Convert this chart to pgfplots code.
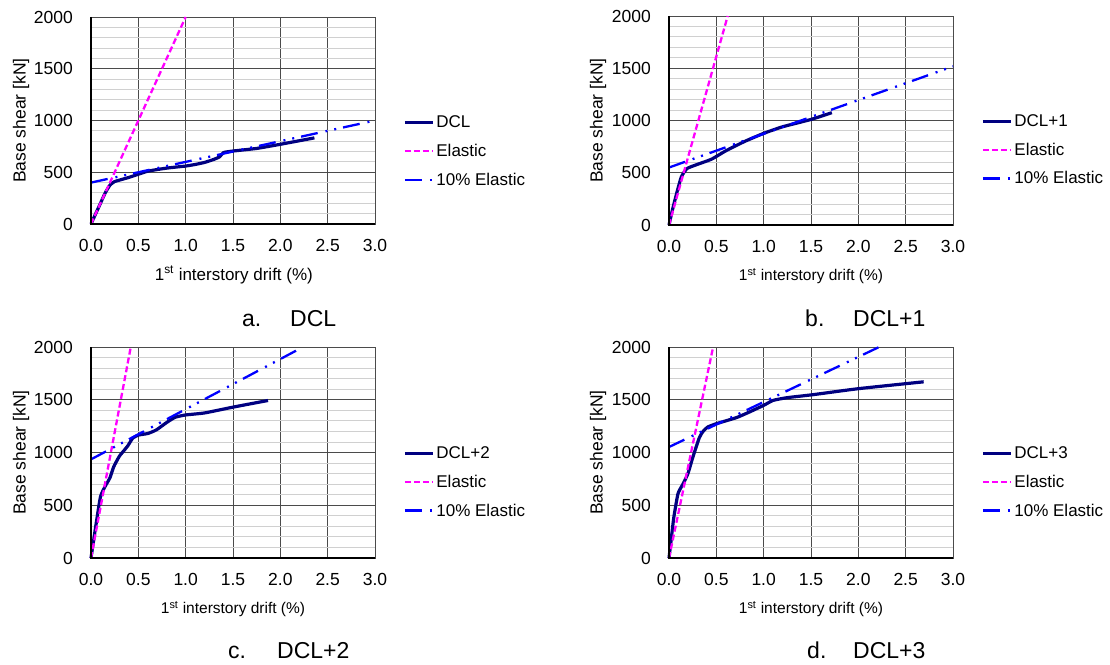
\documentclass[border=0pt]{standalone}
\usepackage{fontspec}
\setmainfont{Liberation Sans}
\usepackage{pgfplots}
\pgfplotsset{compat=1.18}

\definecolor{dcl}{RGB}{0,0,128}
\definecolor{elas}{RGB}{255,0,255}
\definecolor{tenp}{RGB}{0,0,255}
\definecolor{majgrid}{RGB}{75,75,75}
\definecolor{mingrid}{RGB}{208,208,208}

\pgfplotstableread{
x y
0.00 0
0.05 100
0.10 200
0.15 300
0.20 375
0.25 410
0.40 450
0.60 510
0.80 540
1.00 560
1.10 575
1.20 595
1.30 625
1.36 650
1.40 690
1.50 705
1.75 730
2.00 770
2.36 832
}\dclA

\pgfplotstableread{
x y
0.00 0
0.03 120
0.08 300
0.13 460
0.19 540
0.30 580
0.45 630
0.60 710
0.80 800
1.00 877
1.20 940
1.50 1010
1.72 1075
}\dclB

\pgfplotstableread{
x y
0.00 0
0.05 300
0.10 580
0.15 680
0.20 760
0.24 865
0.30 965
0.35 1020
0.39 1065
0.44 1135
0.50 1165
0.60 1180
0.69 1214
0.80 1285
0.89 1334
1.00 1356
1.20 1375
1.50 1430
1.87 1493
}\dclC

\pgfplotstableread{
x y
0.00 0
0.02 150
0.05 380
0.095 610
0.15 705
0.20 800
0.25 950
0.32 1140
0.36 1200
0.41 1242
0.50 1273
0.71 1330
0.85 1384
1.00 1447
1.10 1494
1.25 1520
1.52 1548
2.00 1605
2.69 1670
}\dclD

\pgfplotsset{
  panel/.style={
    scale only axis, width=284pt,
    xmin=0, xmax=3, ymin=0, ymax=2000,
    xtick={0,0.5,1,1.5,2,2.5,3},
    xticklabels={0.0,0.5,1.0,1.5,2.0,2.5,3.0},
    ytick={0,500,1000,1500,2000},
    yticklabels={0,500,1000,1500,2000},
    minor ytick={100,200,300,400,600,700,800,900,1100,1200,1300,1400,1600,1700,1800,1900},
    grid=both,
    major grid style={majgrid, line width=0.9pt},
    minor grid style={mingrid, line width=0.9pt},
    axis line style={majgrid, line width=0.9pt},
    tick style={draw=none},
    x tick label style={anchor=north, inner sep=0pt, yshift=-15pt, font=\fontsize{17.5}{20}\selectfont},
    y tick label style={anchor=east, inner sep=0pt, xshift=-18pt, font=\fontsize{17.5}{20}\selectfont},
    ylabel={Base shear [kN]},
    legend cell align=left,
    legend image code/.code={\draw[#1] (0pt,0pt) -- (28pt,0pt);},
    legend style={draw=none, fill=none, inner sep=0pt, row sep=11pt,
      font=\fontsize{17}{20}\selectfont, anchor=west},
    clip=false,
  },
  dclstyle/.style={dcl, line width=3.2pt, smooth, tension=0.3},
  elstyle/.style={elas, line width=2.3pt, dash pattern=on 6pt off 3pt},
  tenstyle/.style={tenp, line width=2.3pt, dash pattern=on 17pt off 8pt on 2pt off 7pt on 2pt off 7pt},
}

\newcommand{\thickaxes}{\draw[black, line width=2.8pt] (rel axis cs:0,1) -- (rel axis cs:0,0) -- (rel axis cs:1,0);}

\begin{document}
\begin{tikzpicture}[x=1pt,y=1pt]
\useasboundingbox (0pt,0pt) rectangle (1110pt,664pt);

% ---------- a ----------
\begin{axis}[panel, at={(91pt,440pt)}, anchor=south west, height=207pt,
  xlabel={1\textsuperscript{st} interstory drift (\%)},
  xlabel style={at={([yshift=-51pt]rel axis cs:0.503,0)}, anchor=center, font=\fontsize{17}{20}\selectfont},
  ylabel style={at={([xshift=-70pt]rel axis cs:0,0.5)}, anchor=center, font=\fontsize{17.5}{20}\selectfont},
  legend style={at={(1.0986,0.350)}}]
\addplot[dclstyle] table {\dclA};
\addlegendentry{DCL}
\addplot[elstyle] coordinates {(0,0) (1.0,2000)};
\addlegendentry{Elastic}
\addplot[tenstyle] coordinates {(0,400) (3.0,1000)};
\addlegendentry{10\% Elastic}
\thickaxes
\end{axis}

% ---------- b ----------
\begin{axis}[panel, at={(669pt,439pt)}, anchor=south west, height=209pt,
  xlabel={1\textsuperscript{st} interstory drift (\%)},
  xlabel style={at={([yshift=-51pt]rel axis cs:0.5,0)}, anchor=center, font=\fontsize{15.5}{18}\selectfont},
  ylabel style={at={([xshift=-71pt]rel axis cs:0,0.5)}, anchor=center, font=\fontsize{17.5}{20}\selectfont},
  legend style={at={(1.0986,0.359)}}]
\addplot[dclstyle] table {\dclB};
\addlegendentry{DCL+1}
\addplot[elstyle] coordinates {(0,0) (0.62,2000)};
\addlegendentry{Elastic}
\addplot[tenstyle] coordinates {(0,550) (3.0,1518)};
\addlegendentry{10\% Elastic}
\thickaxes
\end{axis}

% ---------- c ----------
\begin{axis}[panel, at={(91pt,106pt)}, anchor=south west, height=211pt,
  xlabel={1\textsuperscript{st} interstory drift (\%)},
  xlabel style={at={([yshift=-51pt]rel axis cs:0.5,0)}, anchor=center, font=\fontsize{15.5}{18}\selectfont},
  ylabel style={at={([xshift=-70pt]rel axis cs:0,0.5)}, anchor=center, font=\fontsize{17.5}{20}\selectfont},
  legend style={at={(1.0986,0.36)}}]
\addplot[dclstyle] table {\dclC};
\addlegendentry{DCL+2}
\addplot[elstyle] coordinates {(0,0) (0.42,2000)};
\addlegendentry{Elastic}
\addplot[tenstyle] coordinates {(0,935) (2.24,2000)};
\addlegendentry{10\% Elastic}
\thickaxes
\end{axis}

% ---------- d ----------
\begin{axis}[panel, at={(669pt,106pt)}, anchor=south west, height=211pt,
  xlabel={1\textsuperscript{st} interstory drift (\%)},
  xlabel style={at={([yshift=-51pt]rel axis cs:0.5,0)}, anchor=center, font=\fontsize{15.5}{18}\selectfont},
  ylabel style={at={([xshift=-71pt]rel axis cs:0,0.5)}, anchor=center, font=\fontsize{17.5}{20}\selectfont},
  legend style={at={(1.0986,0.36)}}]
\addplot[dclstyle] table {\dclD};
\addlegendentry{DCL+3}
\addplot[elstyle] coordinates {(0,0) (0.466,2000)};
\addlegendentry{Elastic}
\addplot[tenstyle] coordinates {(0,1052) (2.22,2000)};
\addlegendentry{10\% Elastic}
\thickaxes
\end{axis}

% captions
\begin{scope}[every node/.style={inner sep=0pt, anchor=base west, font=\fontsize{23}{27}\selectfont}]
\node at (242pt,337pt) {a.};
\node at (290pt,337pt) {DCL};
\node at (805pt,337pt) {b.};
\node at (853pt,337pt) {DCL+1};
\node at (228pt,6pt) {c.};
\node at (277pt,6pt) {DCL+2};
\node at (807pt,6pt) {d.};
\node at (853pt,6pt) {DCL+3};
\end{scope}
\end{tikzpicture}
\end{document}
